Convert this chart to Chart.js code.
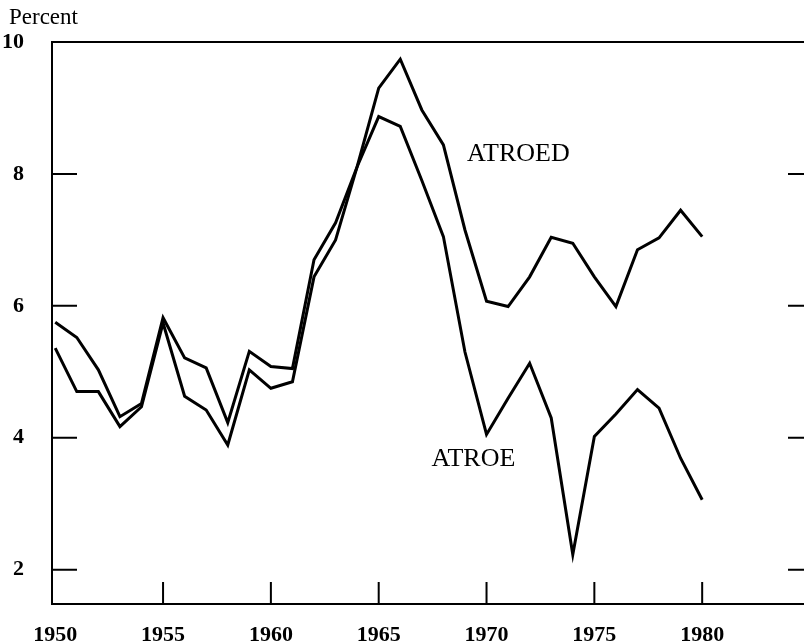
<!DOCTYPE html>
<html>
<head>
<meta charset="utf-8">
<script src="https://cdn.jsdelivr.net/npm/chart.js@4.4.1/dist/chart.umd.min.js"></script>
<style>
  html, body { margin: 0; padding: 0; background: #fff; overflow: hidden; }
  #wrap { position: absolute; left: 0; top: 0; width: 812px; height: 644px; }
  #ylabel { position: absolute; left: 9px; top: 4px; font: 23px "Liberation Serif", "Times New Roman", serif; color: #000; }
</style>
</head>
<body>
<div id="wrap"><canvas id="chart" width="812" height="644"></canvas></div>
<div id="ylabel">Percent</div>
<script>
// Данные
const years = [1950, 1951, 1952, 1953, 1954, 1955, 1956, 1957, 1958, 1959,
               1960, 1961, 1962, 1963, 1964, 1965, 1966, 1967, 1968, 1969,
               1970, 1971, 1972, 1973, 1974, 1975, 1976, 1977, 1978, 1979, 1980];
const atroed = [5.75, 5.52, 5.03, 4.32, 4.52, 5.82, 5.21, 5.06, 4.23, 5.31,
                5.08, 5.05, 6.70, 7.26, 8.11, 9.30, 9.74, 8.97, 8.44, 7.15,
                6.07, 5.99, 6.44, 7.04, 6.95, 6.44, 5.99, 6.85, 7.03, 7.45, 7.05];
const atroe  = [5.36, 4.70, 4.70, 4.17, 4.47, 5.74, 4.63, 4.42, 3.89, 5.03,
                4.75, 4.85, 6.44, 7.00, 8.11, 8.87, 8.72, 7.90, 7.05, 5.30,
                4.05, 4.60, 5.13, 4.30, 2.23, 4.02, 4.36, 4.73, 4.45, 3.69, 3.06];
const xTicks = [1950, 1955, 1960, 1965, 1970, 1975, 1980];
const yTicks = [2, 4, 6, 8, 10];

const FONT = '"Liberation Serif", "Times New Roman", serif';

// Подписи линий и рамка с внутренними засечками
const framePlugin = {
    id: 'frame',
    afterDraw(chart) {
        const { ctx, chartArea: a, scales: { x, y } } = chart;
        ctx.save();
        ctx.strokeStyle = '#000';
        ctx.lineWidth = 2;
        ctx.strokeRect(a.left, a.top, a.right - a.left, a.bottom - a.top);
        ctx.beginPath();
        y.ticks.forEach(t => {
            const py = y.getPixelForValue(t.value);
            ctx.moveTo(a.left, py); ctx.lineTo(a.left + 25, py);
            ctx.moveTo(a.right - 22, py); ctx.lineTo(a.right, py);
        });
        x.ticks.forEach(t => {
            if (t.value <= xTicks[0]) return;
            const px = x.getPixelForValue(t.value);
            ctx.moveTo(px, a.bottom); ctx.lineTo(px, a.bottom - 22);
        });
        ctx.stroke();

        ctx.fillStyle = '#000';
        ctx.font = '26px ' + FONT;
        ctx.textAlign = 'left';
        ctx.textBaseline = 'middle';
        ctx.fillText('ATROED', x.getPixelForValue(1969.1), y.getPixelForValue(8.3));
        ctx.fillText('ATROE', x.getPixelForValue(1967.45), y.getPixelForValue(3.68));
        ctx.restore();
    }
};

const ctx = document.getElementById('chart').getContext('2d');
const chart = new Chart(ctx, {
    type: 'line',
    data: {
        labels: years,
        datasets: [
            { label: 'ATROED', data: years.map((yr, i) => ({ x: yr, y: atroed[i] })) },
            { label: 'ATROE', data: years.map((yr, i) => ({ x: yr, y: atroe[i] })) }
        ]
    },
    options: {
        responsive: false,
        animation: false,
        devicePixelRatio: 1,
        layout: { padding: { top: 42, right: 2, left: 0, bottom: 0 } },
        elements: {
            line: { borderColor: '#000', borderWidth: 3, tension: 0, fill: false },
            point: { radius: 0 }
        },
        scales: {
            x: {
                type: 'linear',
                min: 1949.85,
                max: 1985,
                grid: { display: false },
                border: { display: false },
                afterBuildTicks: s => { s.ticks = xTicks.map(v => ({ value: v })); },
                afterFit: s => { s.height = 40; },
                ticks: {
                    color: '#000',
                    font: { family: FONT, size: 22, weight: 'bold' },
                    padding: 10,
                    maxRotation: 0,
                    callback: v => String(v)
                }
            },
            y: {
                min: 1.48,
                max: 10,
                grid: { display: false },
                border: { display: false },
                afterBuildTicks: s => { s.ticks = yTicks.map(v => ({ value: v })); },
                afterFit: s => { s.width = 52; },
                ticks: {
                    color: '#000',
                    font: { family: FONT, size: 22, weight: 'bold' },
                    padding: 20,
                    callback: v => String(v)
                }
            }
        },
        plugins: { legend: { display: false }, tooltip: { enabled: false } }
    },
    plugins: [framePlugin]
});
</script>
</body>
</html>
